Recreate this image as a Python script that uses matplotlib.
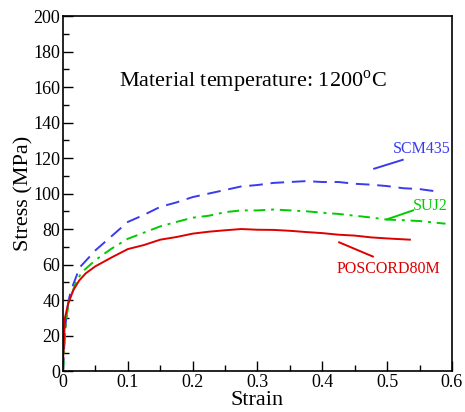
import matplotlib
matplotlib.use('Agg')
import matplotlib.pyplot as plt
from matplotlib.ticker import MultipleLocator

plt.rcParams['font.family'] = ['Liberation Serif', 'DejaVu Serif']
plt.rcParams['mathtext.fontset'] = 'custom'
plt.rcParams['mathtext.rm'] = 'Liberation Serif'

# SCM435
scm_x = [0, 0.003, 0.006, 0.01, 0.016, 0.026, 0.035, 0.05, 0.075, 0.1, 0.125, 0.15,
         0.175, 0.2, 0.225, 0.25, 0.275, 0.3, 0.325, 0.35, 0.375, 0.4, 0.425,
         0.45, 0.475, 0.5, 0.525, 0.55, 0.58]
scm_y = [0, 22, 34, 42, 49, 58.5, 62, 68, 76, 84, 88, 92.5,
         95, 98, 100, 102, 104, 104.8, 106, 106.5, 107, 106.5, 106.5,
         105.5, 105, 104.2, 103, 102.5, 101]

# SUJ2
suj_x = [0, 0.003, 0.006, 0.01, 0.021, 0.03, 0.05, 0.075, 0.1, 0.125, 0.15, 0.175,
         0.2, 0.225, 0.25, 0.275, 0.3, 0.325, 0.35, 0.375, 0.4, 0.425, 0.45,
         0.475, 0.5, 0.525, 0.55, 0.59]
suj_y = [0, 20, 32, 40, 51, 56, 62.5, 69, 74.5, 78, 81.5, 84,
         86.4, 87.5, 89.5, 90.5, 90.5, 91, 90.5, 90, 89.2, 88.5, 87.5,
         86.5, 85.3, 85, 84.5, 83]

# POSCORD80M
pos_x = [0, 0.003, 0.008, 0.016, 0.025, 0.035, 0.05, 0.075, 0.1, 0.125, 0.15,
         0.175, 0.2, 0.225, 0.25, 0.275, 0.3, 0.325, 0.35, 0.375, 0.4, 0.425,
         0.45, 0.475, 0.5, 0.535]
pos_y = [5, 30, 38, 45.6, 51, 55, 59, 64, 68.7, 71, 74, 75.5,
         77.4, 78.5, 79.3, 80, 79.6, 79.5, 79, 78.3, 77.7, 76.8,
         76.3, 75.3, 74.7, 74]

fig = plt.figure(figsize=(4.65, 4.12), dpi=100)
ax = fig.add_axes([0.1355, 0.0995, 0.8365, 0.8615])

ax.plot(scm_x, scm_y, color='#3a3aee', lw=1.4, dashes=(7, 4))
ax.plot(suj_x, suj_y, color='#00cc00', lw=1.4, dashes=(6, 3, 1.5, 3))
ax.plot(pos_x, pos_y, color='#dd0000', lw=1.4)

# labels with leader lines
ax.plot([0.48, 0.524], [114, 119], color='#3a3aee', lw=1.4)
ax.text(0.553, 125, 'SCM435', color='#3a3aee', fontsize=11.5, ha='center', va='center')
ax.plot([0.5, 0.54], [85.5, 90.5], color='#00cc00', lw=1.4)
ax.text(0.567, 93, 'SUJ2', color='#00cc00', fontsize=11.5, ha='center', va='center')
ax.plot([0.426, 0.478], [72.5, 64.5], color='#dd0000', lw=1.4)
ax.text(0.502, 57.5, 'POSCORD80M', color='#dd0000', fontsize=11.5, ha='center', va='center')

ax.text(0.293, 163, r'Material temperature: 1200$^{\mathrm{o}}$C', fontsize=16,
        ha='center', va='center')

ax.set_xlim(0, 0.6)
ax.set_ylim(0, 200)
ax.xaxis.set_major_locator(MultipleLocator(0.1))
ax.xaxis.set_minor_locator(MultipleLocator(0.05))
ax.yaxis.set_major_locator(MultipleLocator(20))
ax.yaxis.set_minor_locator(MultipleLocator(10))
ax.set_xticks([0, 0.1, 0.2, 0.3, 0.4, 0.5, 0.6])
ax.set_xticklabels(['0', '0.1', '0.2', '0.3', '0.4', '0.5', '0.6'])
ax.tick_params(which='both', direction='in', labelsize=13, pad=2)
ax.tick_params(which='major', length=7, width=1)
ax.tick_params(which='minor', length=4, width=1)
for s in ax.spines.values():
    s.set_linewidth(1.2)

ax.set_xlabel('Strain', fontsize=16, labelpad=0)
ax.set_ylabel('Stress (MPa)', fontsize=16, labelpad=0)

plt.savefig('out.png', dpi=100)
